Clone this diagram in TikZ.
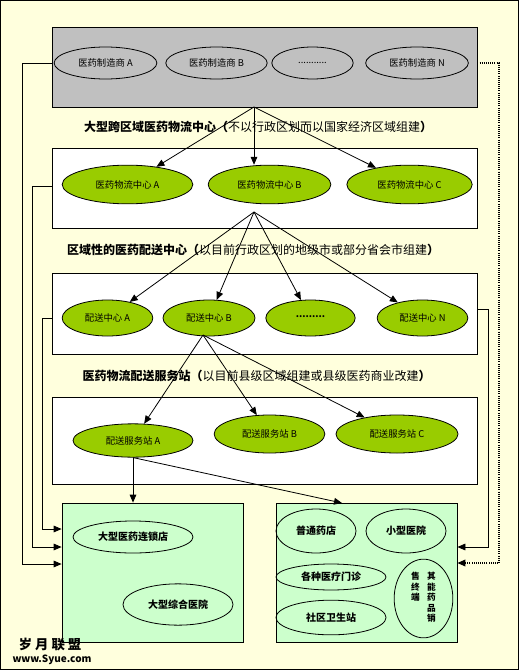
\documentclass[tikz,border=0pt]{standalone}
\usepackage{fontspec}
\setmainfont{Noto Sans CJK SC}
\usetikzlibrary{shapes.geometric,arrows.meta}
\definecolor{bgyellow}{HTML}{FFFFDD}
\definecolor{boxgray}{HTML}{C0C0C0}
\definecolor{leafgreen}{HTML}{99CC00}
\definecolor{mint}{HTML}{CCFFCC}
\begin{document}
\begin{tikzpicture}[x=0.75pt,y=-0.75pt,
  every node/.style={font=\fontsize{7}{8}\selectfont,inner sep=0pt},
  lvl/.style={draw,line width=0.6pt,fill=white,minimum width=318.75pt},
  ell/.style={ellipse,draw,line width=0.6pt},
  grn/.style={ell,fill=leafgreen},
  shop/.style={ell,font=\bfseries\fontsize{7.5}{8}\selectfont},
  title/.style={font=\fontsize{9}{10}\selectfont},
  tip/.style={-{Triangle[length=6pt,width=5pt]},line width=0.6pt}]
  \fill[bgyellow] (0,0) rectangle (519,670);
  \draw[line width=0.75pt] (0.5,0.5) rectangle (518.5,669.5);
  \useasboundingbox (0,0) rectangle (519,670);
  % manufacturers
  \node[lvl,fill=boxgray,minimum height=60pt] (mfr) at (264.5,67) {};
  \node[ell,minimum width=77pt,minimum height=24pt] (ma) at (105.5,63) {医药制造商 A};
  \node[ell,minimum width=76pt,minimum height=24pt] (mb) at (216.5,63) {医药制造商 B};
  \node[ell,minimum width=61pt,minimum height=24pt] (md) at (312.5,63) {...........};
  \node[ell,minimum width=77pt,minimum height=24pt] (mn) at (417,63) {医药制造商 N};
  % logistics centres
  \node[lvl,minimum height=60pt] (lcbox) at (264.5,188) {};
  \node[grn,minimum width=98pt,minimum height=29pt] (la) at (127.5,184.5) {医药物流中心 A};
  \node[grn,minimum width=92pt,minimum height=29pt] (lb) at (269.5,184.5) {医药物流中心 B};
  \node[grn,minimum width=94pt,minimum height=29pt] (lc) at (409.5,184.5) {医药物流中心 C};
  % distribution centres
  \node[lvl,minimum height=60.75pt] (dcbox) at (264.5,313.5) {};
  \node[grn,minimum width=68pt,minimum height=27pt] (da) at (107.5,318) {配送中心 A};
  \node[grn,minimum width=69pt,minimum height=27pt] (db) at (209,318) {配送中心 B};
  \node[grn,minimum width=67pt,minimum height=27pt] (dd) at (310.5,318) {\raisebox{2pt}{\bfseries .........}};
  \node[grn,minimum width=68pt,minimum height=27pt] (dn) at (422.5,318) {配送中心 N};
  % service stations
  \node[lvl,minimum height=65.25pt] (ssbox) at (264.5,440.5) {};
  \node[grn,minimum width=90pt,minimum height=25pt] (sa) at (133,440.5) {配送服务站 A};
  \node[grn,minimum width=83pt,minimum height=28.5pt] (sb) at (269.5,434) {配送服务站 B};
  \node[grn,minimum width=91.5pt,minimum height=28.5pt] (sc) at (397,434) {配送服务站 C};
  % end points
  \node[draw,line width=0.6pt,fill=mint,minimum width=135.75pt,minimum height=104.25pt] (big) at (152.5,572.5) {};
  \node[shop,minimum width=90pt,minimum height=24pt] (chain) at (133,537) {大型医药连锁店};
  \node[shop,minimum width=82.5pt,minimum height=31pt] (hosp) at (178,604.5) {大型综合医院};
  \node[draw,line width=0.6pt,fill=mint,minimum width=135.75pt,minimum height=104.25pt] (small) at (366.5,572.5) {};
  \node[shop,minimum width=60pt,minimum height=33pt] (drug) at (316,531) {普通药店};
  \node[shop,minimum width=60pt,minimum height=33pt] (clinic) at (406,531) {小型医院};
  \node[shop,minimum width=82.5pt,minimum height=19.5pt] (opd) at (331,577) {各种医疗门诊};
  \node[shop,minimum width=82.5pt,minimum height=26pt] (comm) at (331,617.5) {社区卫生站};
  \node[ell,minimum width=44pt,minimum height=59pt,font=\bfseries\fontsize{6.5}{7.6}\selectfont] (other) at (423.5,598.5)
    {\begin{tabular}{@{}c@{\hspace{5.5pt}}c@{}}售&其\\终&能\\端&药\\&品\\&销\end{tabular}};
  % titles
  \node[title] (t1) at (258,127) {\textbf{大型跨区域医药物流中心（}不以行政区划而以国家经济区域组建\textbf{）}};
  \node[title] (t2) at (253,250) {\textbf{区域性的医药配送中心（}以目前行政区划的地级市或部分省会市组建\textbf{）}};
  \node[title] (t3) at (256.5,376) {\textbf{医药物流配送服务站（}以目前县级区域组建或县级医药商业改建\textbf{）}};
  % flows
  \coordinate (h1) at (254,107);
  \draw[tip] (h1) -- (la);
  \draw[tip] (h1) -- (h1 |- lb.north);
  \draw[tip] (h1) -- (lc);
  \coordinate (h2) at (254,212);
  \foreach \n in {da,db,dd,dn} {\draw[tip] (h2) -- (\n);}
  \coordinate (h3) at (203,335);
  \foreach \n in {sa,sb,sc} {\draw[tip] (h3) -- (\n);}
  \coordinate (rin) at (342,503);
  \draw[tip] (sa.south) -- (sa.south |- big.north);
  \draw[tip] (sa.south) -- (rin);
  \draw[tip] (mfr.west |- ma) -| (22,564) -- (big.west |- 0,564);
  \draw[tip] (lcbox.west |- 0,186) -| (32,547) -- (big.west |- 0,547);
  \draw[tip] (dcbox.west |- da) -| (42,529) -- (big.west |- 0,529);
  \draw[tip] (dcbox.east |- 0,309) -| (488,547) -- (small.east |- 0,547);
  \draw[tip,densely dotted,line width=1pt] (mfr.east |- mn) -| (499,563) -- (small.east |- 0,563);
  % site mark
  \node[font=\bfseries\fontsize{10}{10}\selectfont] (logo) at (50,644.5) {岁 月 联 盟};
  \node[font=\bfseries\fontsize{7.5}{8}\selectfont] (site) at (52,659.5) {www.Syue.com};
\end{tikzpicture}
\end{document}
